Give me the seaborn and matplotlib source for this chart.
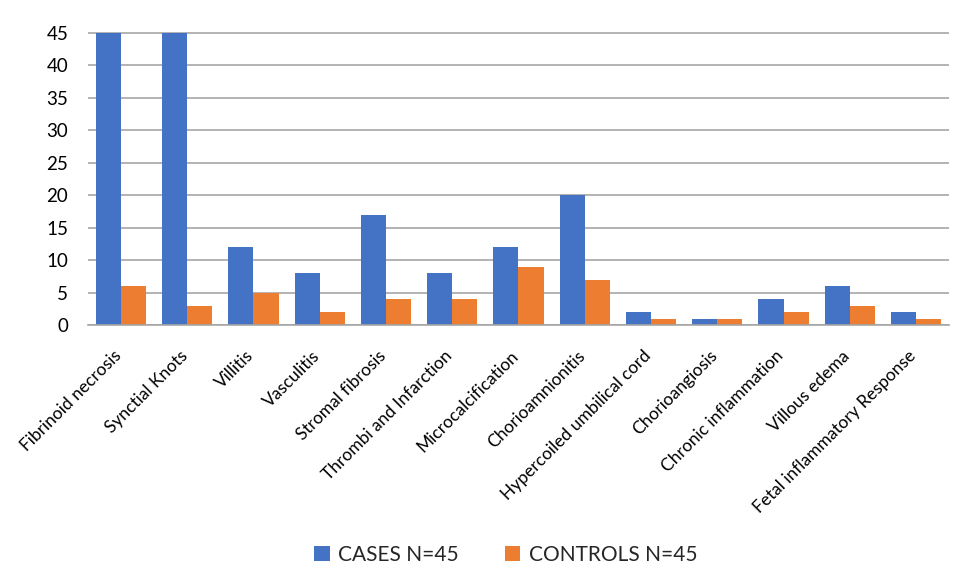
import matplotlib
matplotlib.use("Agg")
import matplotlib.pyplot as plt
import matplotlib.transforms as mtransforms
import seaborn as sns
import pandas as pd

categories = ["Fibrinoid necrosis", "Synctial Knots", "Villitis", "Vasculitis",
              "Stromal fibrosis", "Thrombi and Infarction", "Microcalcification",
              "Chorioamnionitis", "Hypercoiled umbilical cord", "Chorioangiosis",
              "Chronic inflammation", "Villous edema", "Fetal inflammatory Response"]
cases = [45, 45, 12, 8, 17, 8, 12, 20, 2, 1, 4, 6, 2]
controls = [6, 3, 5, 2, 4, 4, 9, 7, 1, 1, 2, 3, 1]
series_names = ["CASES N=45", "CONTROLS N=45"]
yticks = [0, 5, 10, 15, 20, 25, 30, 35, 40, 45]

df = pd.DataFrame({
    "category": categories * 2,
    "value": cases + controls,
    "series": [series_names[0]] * len(categories) + [series_names[1]] * len(categories),
})

sns.set_theme(style="white")
plt.rcParams['font.family'] = ['Lato', 'DejaVu Sans']

fig = plt.figure(figsize=(9.54, 5.71), dpi=100)
ax = fig.add_axes([0.092, 0.43, 0.903, 0.542])

sns.barplot(data=df, x="category", y="value", hue="series",
            palette=["#4472C4", "#ED7D31"], saturation=1, width=0.76,
            edgecolor="none", ax=ax, legend=True)

ax.set_ylim(0, 47.6)
ax.set_xlim(-0.5, len(categories) - 0.5)
ax.set_yticks(yticks)
ax.yaxis.grid(True, color="#a6a6a6", linewidth=1.2)
ax.set_axisbelow(True)
for s in ["top", "right", "left"]:
    ax.spines[s].set_visible(False)
ax.spines["bottom"].set_color("#a6a6a6")
ax.spines["bottom"].set_linewidth(1.2)
ax.set_xlabel("")
ax.set_ylabel("")
ax.tick_params(axis="y", length=0, labelsize=13.5, colors="#000000", pad=14)
ax.tick_params(axis="x", length=0, labelsize=12.5, colors="#000000", pad=16)
offset = mtransforms.ScaledTranslation(-8 / 100, 0, fig.dpi_scale_trans)
for lab in ax.get_xticklabels():
    lab.set_rotation(45)
    lab.set_ha("right")
    lab.set_rotation_mode("anchor")
    lab.set_transform(lab.get_transform() + offset)

handles, labels = ax.get_legend_handles_labels()
ax.legend_.remove()
fig.legend(handles, labels, loc="lower center", bbox_to_anchor=(0.53, -0.022),
           ncol=2, frameon=False, fontsize=15, handlelength=0.75, handleheight=0.75,
           columnspacing=2.2, handletextpad=0.4)

fig.savefig("out.png", dpi=100)
